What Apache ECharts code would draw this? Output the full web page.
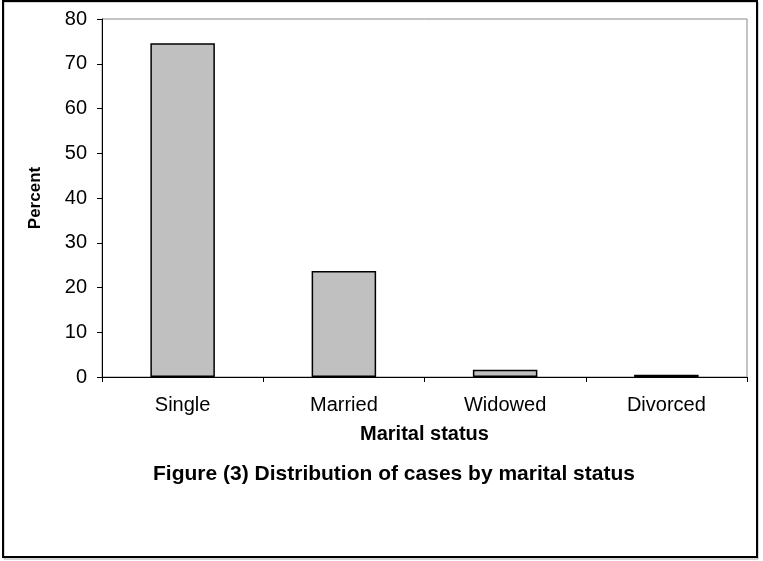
<!DOCTYPE html>
<html>
<head>
<meta charset="utf-8">
<script src="https://cdn.jsdelivr.net/npm/echarts@6/dist/echarts.min.js"></script>
<style>
  html, body { margin: 0; padding: 0; background: #fff; }
  #chart { width: 763px; height: 561px; }
</style>
</head>
<body>
<div id="chart"></div>
<script>
// data
const categories = ['Single', 'Married', 'Widowed', 'Divorced'];
const percentValues = [74.6, 23.7, 1.6, 0.5];
const yTicks = { min: 0, max: 80, interval: 10 };

const chart = echarts.init(document.getElementById('chart'));
const fontFamily = 'Arial, "Liberation Sans", sans-serif';

const option = {
  backgroundColor: '#fff',
  animation: false,
  title: {
    text: 'Figure (3) Distribution of cases by marital status',
    left: 389,
    top: 459,
    textAlign: 'center',
    textStyle: { fontFamily, fontSize: 21, fontWeight: 'bold', color: '#000' },
  },
  graphic: [
    // outer frame, with a faint grey edge under it
    {
      type: 'rect',
      shape: { x: 4, y: 2, width: 754, height: 557 },
      style: { fill: 'none', stroke: '#aaa', lineWidth: 1 },
      silent: true,
    },
    {
      type: 'rect',
      shape: { x: 3, y: 1, width: 754, height: 556 },
      style: { fill: 'none', stroke: '#000', lineWidth: 2 },
      silent: true,
    },
  ],
  grid: {
    left: 102,
    right: 16,
    top: 19,
    bottom: 184,
    show: true,
    borderColor: '#888',
    borderWidth: 1,
    backgroundColor: 'transparent',
  },
  xAxis: {
    type: 'category',
    data: categories,
    name: 'Marital status',
    nameLocation: 'middle',
    nameGap: 47,
    nameTextStyle: { fontFamily, fontSize: 20, fontWeight: 'bold', color: '#000' },
    axisLine: { lineStyle: { color: '#000', width: 1 } },
    axisTick: { show: true, length: 5, lineStyle: { color: '#000' } },
    axisLabel: { fontFamily, fontSize: 20, color: '#000', margin: 18 },
    splitLine: { show: false },
  },
  yAxis: {
    type: 'value',
    min: yTicks.min,
    max: yTicks.max,
    interval: yTicks.interval,
    name: 'Percent',
    nameLocation: 'middle',
    nameRotate: 90,
    nameGap: 58,
    nameTextStyle: { fontFamily, fontSize: 17, fontWeight: 'bold', color: '#000' },
    axisLine: { show: true, lineStyle: { color: '#000', width: 1 } },
    axisTick: { show: true, length: 5, lineStyle: { color: '#000' } },
    axisLabel: { fontFamily, fontSize: 20, color: '#000', margin: 15 },
    splitLine: { show: false },
  },
  series: [
    {
      type: 'bar',
      data: percentValues,
      barWidth: '40%',
      itemStyle: { color: '#c0c0c0', borderColor: '#000', borderWidth: 1.5 },
      emphasis: { disabled: true },
    },
  ],
};

chart.setOption(option);
</script>
</body>
</html>
